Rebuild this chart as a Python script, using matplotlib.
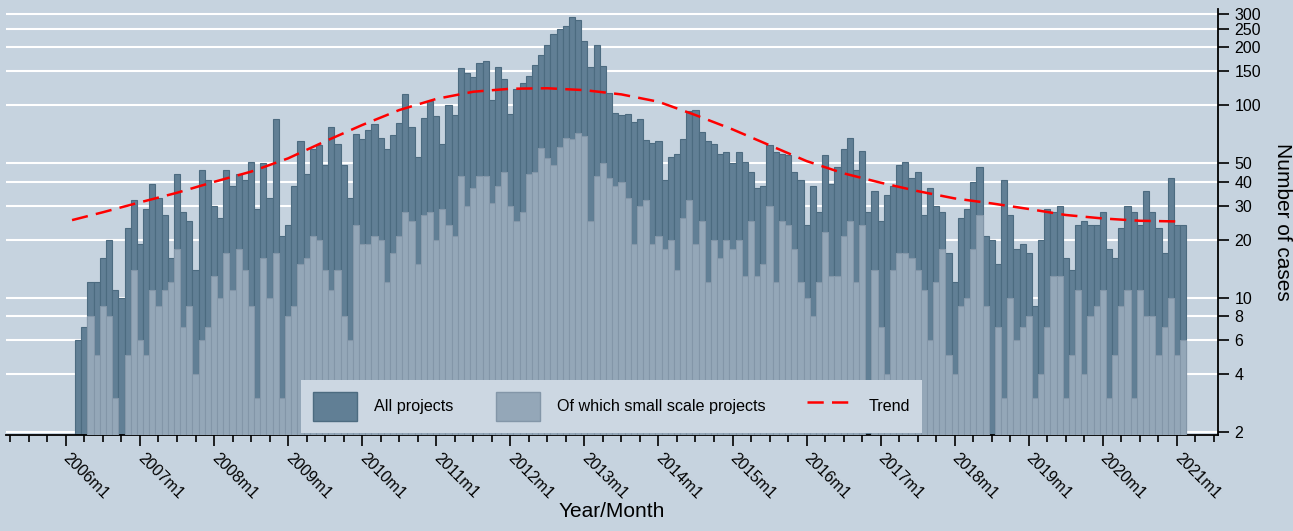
import matplotlib.pyplot as plt
from matplotlib.patches import Patch
from matplotlib.lines import Line2D
from matplotlib.ticker import FixedLocator, NullLocator
import numpy as np

# monthly counts, 2006m2 .. 2021m1
all_projects = [6, 7, 12, 12, 16, 20, 11, 10, 23, 32, 19, 29,
                39, 33, 27, 16, 44, 28, 25, 14, 46, 41, 30, 26,
                46, 38, 44, 41, 51, 29, 50, 33, 85, 21, 24, 38,
                65, 44, 59, 62, 49, 77, 63, 49, 33, 71, 67, 74,
                80, 68, 59, 70, 81, 115, 77, 54, 86, 105, 88, 63,
                101, 89, 156, 148, 140, 166, 170, 107, 158, 137, 90, 121,
                130, 142, 162, 183, 207, 235, 250, 260, 287, 279, 215, 158,
                207, 161, 116, 91, 89, 90, 82, 85, 66, 64, 65, 41,
                54, 56, 67, 93, 95, 73, 65, 63, 56, 57, 50, 57,
                51, 45, 37, 38, 62, 57, 56, 55, 45, 41, 24, 38,
                28, 55, 39, 48, 59, 68, 46, 58, 28, 36, 25, 34,
                38, 49, 51, 42, 45, 27, 37, 30, 28, 17, 12, 26,
                29, 40, 48, 21, 20, 15, 41, 27, 18, 19, 17, 9,
                20, 29, 28, 30, 16, 14, 24, 25, 24, 24, 28, 18,
                16, 23, 30, 28, 24, 36, 28, 23, 17, 42, 24, 24]
small_projects = [0, 0, 8, 5, 9, 8, 3, 0, 5, 14, 6, 5,
                  11, 9, 11, 12, 18, 7, 9, 4, 6, 7, 13, 10,
                  17, 11, 18, 14, 9, 3, 16, 10, 17, 3, 8, 9,
                  15, 16, 21, 20, 14, 11, 14, 8, 6, 24, 19, 19,
                  21, 20, 12, 17, 21, 28, 25, 15, 27, 28, 20, 29,
                  24, 21, 43, 30, 37, 43, 43, 31, 38, 45, 30, 25,
                  28, 44, 45, 60, 53, 49, 61, 68, 67, 72, 69, 25,
                  43, 50, 42, 38, 40, 33, 19, 30, 32, 19, 21, 18,
                  20, 14, 26, 32, 19, 25, 12, 20, 16, 20, 18, 20,
                  13, 25, 13, 15, 30, 12, 25, 24, 18, 12, 10, 8,
                  12, 22, 13, 13, 21, 25, 12, 24, 0, 14, 7, 4,
                  14, 17, 17, 16, 14, 11, 6, 12, 18, 5, 4, 9,
                  10, 18, 27, 9, 0, 7, 3, 10, 6, 7, 8, 3,
                  4, 7, 13, 13, 3, 5, 11, 4, 8, 9, 11, 3,
                  5, 9, 11, 3, 11, 8, 8, 5, 7, 10, 5, 6]

# trend, months since 2006m1
trend_month = [1, 6, 12, 18, 24, 30, 36, 42, 48, 54, 60, 66, 72, 78, 84, 90,
               96, 102, 108, 114, 120, 126, 132, 138, 144, 150, 156, 162, 168, 174, 180]
trend_value = [25.3, 27.8, 31.3, 35.1, 40, 45.2, 53, 65, 79, 94.5, 108, 117.7, 122, 122.7, 120, 114,
               104.4, 89, 75, 62, 51.3, 44.3, 39.6, 35.8, 32.8, 30.9, 28.9, 26.9, 25.8, 25.1, 24.9]

year_labels = ["2006m1", "2007m1", "2008m1", "2009m1", "2010m1", "2011m1", "2012m1", "2013m1",
               "2014m1", "2015m1", "2016m1", "2017m1", "2018m1", "2019m1", "2020m1", "2021m1"]
y_ticks = [2, 4, 6, 8, 10, 20, 30, 40, 50, 100, 150, 200, 250, 300]

bg = "#C6D3DF"
dark = "#617F95"
light = "#94A7B8"

plt.rcParams['font.family'] = ['Liberation Sans', 'DejaVu Sans']

W, H = 1293, 531
fig = plt.figure(figsize=(W / 100, H / 100), dpi=100, facecolor=bg)
ax = fig.add_axes([6 / W, (H - 435) / H, (1217.7 - 6) / W, (435 - 9) / H])
ax.set_facecolor(bg)

x = np.arange(len(all_projects)) + 1.5
ax.bar(x, all_projects, width=1, align='edge', bottom=1e-3, color=dark,
       edgecolor="#4C6B80", linewidth=0.8, zorder=2)
ax.bar(x, small_projects, width=1, align='edge', bottom=1e-3, color=light,
       edgecolor="#8396A8", linewidth=0.8, zorder=3)
ax.plot(trend_month, trend_value, color="red", lw=1.8, dashes=(6.5, 3.3), zorder=4)

ax.set_yscale('log')
ax.set_ylim(1.93, 317)
ax.set_xlim(-9.7, 186.6)

ax.yaxis.tick_right()
ax.yaxis.set_label_position('right')
ax.yaxis.set_major_locator(FixedLocator(y_ticks))
ax.yaxis.set_minor_locator(NullLocator())
ax.set_yticklabels([str(v) for v in y_ticks], fontsize=11.5)
ax.tick_params(axis='y', direction='out', length=8, width=1.2, pad=4)
ax.yaxis.grid(True, color='white', lw=1.5)
ax.set_axisbelow(True)

ax.set_xticks(np.arange(0, 181, 12))
ax.set_xticklabels(year_labels, rotation=-45, ha='left', va='center',
                   rotation_mode='anchor', fontsize=11.5)
ax.set_xticks(np.arange(-9, 187, 3), minor=True)
ax.tick_params(axis='x', which='major', direction='out', length=8, width=1.2, pad=7)
ax.tick_params(axis='x', which='minor', direction='out', length=5, width=1.2)

for s in ['top', 'left']:
    ax.spines[s].set_visible(False)
for s in ['bottom', 'right']:
    ax.spines[s].set_linewidth(1.3)

ax.set_ylabel("Number of cases", rotation=270, fontsize=15, labelpad=22)
ax.set_xlabel("Year/Month", fontsize=15, labelpad=0)

handles = [Patch(facecolor=dark, edgecolor="#4C6B80"),
           Patch(facecolor=light, edgecolor="#8396A8"),
           Line2D([0], [0], color="red", lw=1.8, dashes=(6.5, 3.3))]
leg = ax.legend(handles, ["All projects", "Of which small scale projects", "Trend"],
                ncol=3, loc='center', bbox_to_anchor=(611.5 / W, 1 - 406.5 / H),
                bbox_transform=fig.transFigure, fontsize=11.6, frameon=True,
                facecolor="#CCD7E2", edgecolor="none", framealpha=1, fancybox=False,
                handlelength=2.75, handleheight=2.4, handletextpad=1.05,
                columnspacing=2.6, borderpad=0.75)

fig.savefig("out.png", dpi=100, facecolor=bg)
